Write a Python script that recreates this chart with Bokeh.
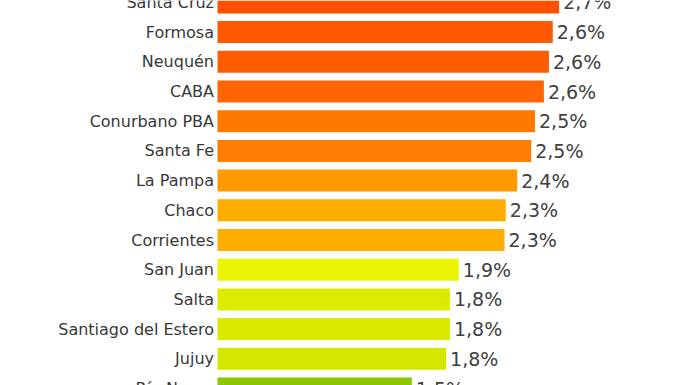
from bokeh.plotting import figure
from bokeh.models import ColumnDataSource, Range1d
from bokeh.core.properties import value
from bokeh.embed import file_html
from bokeh.resources import INLINE

# Data (top to bottom in the picture)
categories = ["Santa Cruz", "Formosa", "Neuquén", "CABA", "Conurbano PBA", "Santa Fe",
              "La Pampa", "Chaco", "Corrientes", "San Juan", "Salta",
              "Santiago del Estero", "Jujuy", "Río Negro"]
values = [2.69, 2.64, 2.61, 2.57, 2.50, 2.47, 2.36, 2.27, 2.26, 1.90, 1.83, 1.83, 1.80, 1.53]
labels = ["2,7%", "2,6%", "2,6%", "2,6%", "2,5%", "2,5%", "2,4%", "2,3%", "2,3%",
          "1,9%", "1,8%", "1,8%", "1,8%", "1,5%"]
colors = ["#FF5000", "#FF5800", "#FF5C00", "#FF6504", "#FF7800", "#FF7D00", "#FF9A00",
          "#FFAE00", "#FFAD00", "#ECF500", "#DAEB00", "#D9EA00", "#D4E700", "#8CC600"]

n = len(categories)
pos = [n - 1 - i for i in range(n)]

src = ColumnDataSource(dict(y=pos, v=values, cat=categories, lab=labels, col=colors,
                            zero=[0] * n))

W, H = 685, 385
p = figure(width=W, height=H, output_backend="svg", toolbar_location=None,
           x_range=Range1d(-217 / 127, (W - 217) / 127),
           y_range=Range1d(3 / 29.7, (n - 1) + 1.9 / 29.7),
           min_border=0, min_border_left=0, min_border_right=0,
           min_border_top=0, min_border_bottom=0)
p.axis.visible = False
p.grid.visible = False
p.outline_line_color = None
p.background_fill_color = "white"
p.border_fill_color = "white"

p.hbar(y="y", left=0, right="v", height=0.74, fill_color="col", line_color=None, source=src)

p.text(x="zero", y="y", text="cat", x_offset=-3.5, text_align="right", text_baseline="middle",
       text_font=value("DejaVu Sans"), text_font_size="16px", text_color="#383838", source=src)

p.text(x="v", y="y", text="lab", x_offset=4, text_align="left", text_baseline="middle",
       text_font=value("DejaVu Sans"), text_font_size="19px", text_color="#404040", source=src)

open("out.html", "w").write(file_html(p, INLINE))
